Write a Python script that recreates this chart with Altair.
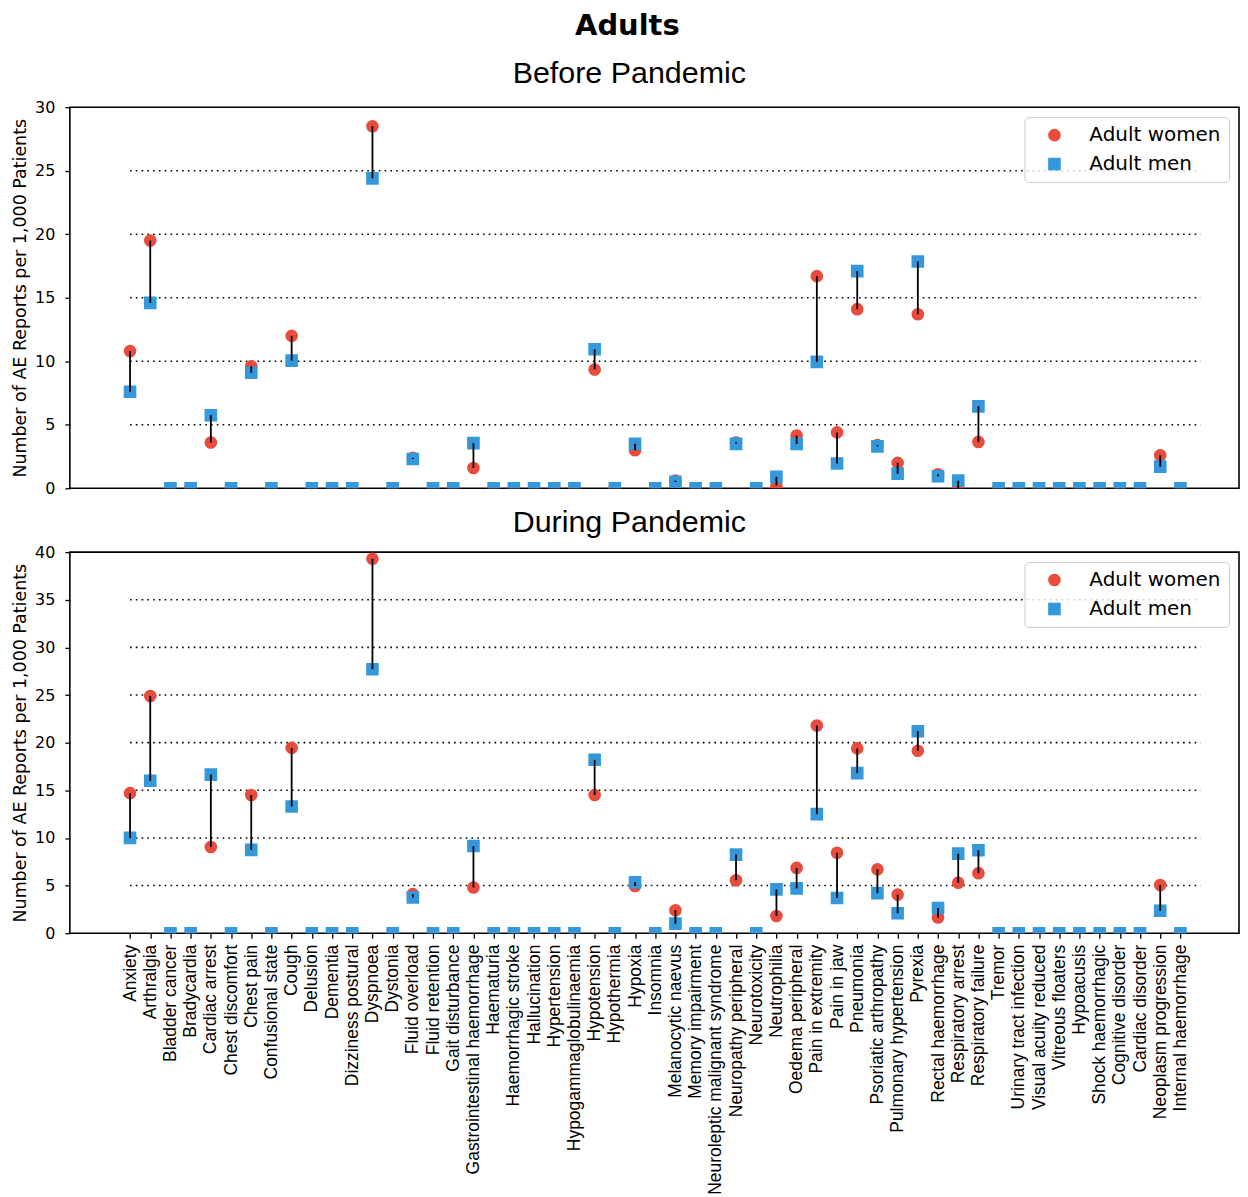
import json
import altair as alt
import pandas as pd

categories = [
    "Anxiety", "Arthralgia", "Bladder cancer", "Bradycardia", "Cardiac arrest",
    "Chest discomfort", "Chest pain", "Confusional state", "Cough", "Delusion",
    "Dementia", "Dizziness postural", "Dyspnoea", "Dystonia", "Fluid overload",
    "Fluid retention", "Gait disturbance", "Gastrointestinal haemorrhage", "Haematuria",
    "Haemorrhagic stroke", "Hallucination", "Hypertension", "Hypogammaglobulinaemia",
    "Hypotension", "Hypothermia", "Hypoxia", "Insomnia", "Melanocytic naevus",
    "Memory impairment", "Neuroleptic malignant syndrome", "Neuropathy peripheral",
    "Neurotoxicity", "Neutrophilia", "Oedema peripheral", "Pain in extremity",
    "Pain in jaw", "Pneumonia", "Psoriatic arthropathy", "Pulmonary hypertension",
    "Pyrexia", "Rectal haemorrhage", "Respiratory arrest", "Respiratory failure",
    "Tremor", "Urinary tract infection", "Visual acuity reduced", "Vitreous floaters",
    "Hypoacusis", "Shock haemorrhagic", "Cognitive disorder", "Cardiac disorder",
    "Neoplasm progression", "Internal haemorrhage",
]

before_women = [10.8, 19.5, 0, 0, 3.6, 0, 9.6, 0, 12.0, 0, 0, 0, 28.5, 0,
                2.4, 0, 0, 1.6, 0, 0, 0, 0, 0,
                9.35, 0, 3.0, 0, 0.6, 0, 0, 3.6, 0, 0.2,
                4.15, 16.7, 4.4, 14.1, 3.4, 2.0, 13.7, 1.1, 0, 3.65,
                0, 0, 0, 0, 0, 0, 0, 0, 2.6, 0]
before_men = [7.6, 14.6, 0, 0, 5.75, 0, 9.1, 0, 10.05, 0, 0, 0, 24.4, 0,
              2.3, 0, 0, 3.55, 0, 0, 0, 0, 0,
              10.95, 0, 3.5, 0, 0.5, 0, 0, 3.5, 0, 0.9,
              3.5, 9.95, 1.95, 17.1, 3.3, 1.15, 17.85, 0.95, 0.6, 6.45,
              0, 0, 0, 0, 0, 0, 0, 0, 1.7, 0]
during_women = [14.7, 24.9, 0, 0, 9.05, 0, 14.5, 0, 19.45, 0, 0, 0, 39.3, 0,
                4.1, 0, 0, 4.8, 0, 0, 0, 0, 0,
                14.5, 0, 4.95, 0, 2.4, 0, 0, 5.55, 0, 1.8,
                6.85, 21.8, 8.45, 19.4, 6.7, 4.05, 19.15, 1.65, 5.3, 6.3,
                0, 0, 0, 0, 0, 0, 0, 0, 5.05, 0]
during_men = [10.0, 16.0, 0, 0, 16.65, 0, 8.75, 0, 13.3, 0, 0, 0, 27.7, 0,
              3.75, 0, 0, 9.15, 0, 0, 0, 0, 0,
              18.2, 0, 5.35, 0, 1.0, 0, 0, 8.25, 0, 4.6,
              4.7, 12.5, 3.7, 16.8, 4.2, 2.1, 21.2, 2.65, 8.35, 8.7,
              0, 0, 0, 0, 0, 0, 0, 0, 2.35, 0]

before_ticks = [0, 5, 10, 15, 20, 25, 30]
during_ticks = [0, 5, 10, 15, 20, 25, 30, 35, 40]
before_grid = [5, 10, 15, 20, 25]
during_grid = [5, 10, 15, 20, 25, 30, 35]

series_names = ["Adult women", "Adult men"]
series_colors = ["#e74c3c", "#3498db"]
series_shapes = ["circle", "square"]

main_title = "Adults"
panel_titles = ["Before Pandemic", "During Pandemic"]
y_title = "Number of AE Reports per 1,000 Patients"

n = len(categories)
PLOT_W = 1172
PLOT_H = 382
x_domain = [-2.98, 54.9]

label_expr = json.dumps(categories) + "[datum.value]"


def panel(title, women, men, ticks, grid_vals, show_x, title_offset):
    long_df = pd.DataFrame({
        "idx": list(range(n)) * 2,
        "value": list(women) + list(men),
        "series": [series_names[0]] * n + [series_names[1]] * n,
    })
    wide_df = pd.DataFrame({"idx": list(range(n)), "women": women, "men": men})
    grid_df = pd.DataFrame({"y": grid_vals, "x0": [0] * len(grid_vals),
                            "x1": [n] * len(grid_vals)})

    xscale = alt.Scale(domain=x_domain, nice=False, zero=False)
    yscale = alt.Scale(domain=[ticks[0], ticks[-1]], nice=False, zero=False)

    if show_x:
        xaxis = alt.Axis(values=list(range(n)), labelExpr=label_expr, labelAngle=-90,
                         labelAlign="right", labelBaseline="middle",
                         labelFont="Liberation Sans", labelFontSize=17.5,
                         labelColor="black", labelOverlap=False, labelPadding=6,
                         labelLimit=0, labelFlush=False, tickSize=5, tickWidth=1.3,
                         tickColor="black", domain=False, grid=False, title=None)
    else:
        xaxis = None
    yaxis = alt.Axis(values=ticks, title=y_title, grid=False, domain=False,
                     tickSize=5, tickWidth=1.3, tickColor="black",
                     labelFont="DejaVu Sans", labelFontSize=16, labelColor="black",
                     labelPadding=10, titleFont="DejaVu Sans", titleFontSize=17.5,
                     titleFontWeight="normal", titleColor="black", titlePadding=5)

    legend = alt.Legend(title=None, orient="top-right", offset=10, padding=8,
                        rowPadding=9, symbolSize=160, symbolStrokeWidth=0,
                        symbolOpacity=1, symbolOffset=12, labelOffset=25,
                        labelFont="DejaVu Sans", labelFontSize=20, labelColor="black",
                        fillColor="rgba(255,255,255,0.8)", strokeColor="#cccccc",
                        cornerRadius=4)

    grid = alt.Chart(grid_df).mark_rule(color="black", strokeWidth=1.6,
                                         strokeDash=[1.6, 4.2]).encode(
        x=alt.X("x0:Q", scale=xscale, axis=xaxis),
        x2="x1:Q",
        y=alt.Y("y:Q", scale=yscale, axis=yaxis),
    )
    points = alt.Chart(long_df).mark_point(filled=True, size=160, opacity=1,
                                           clip=True).encode(
        x=alt.X("idx:Q", scale=xscale, axis=xaxis),
        y=alt.Y("value:Q", scale=yscale, axis=yaxis),
        color=alt.Color("series:N", scale=alt.Scale(domain=series_names,
                                                    range=series_colors),
                        legend=legend),
        shape=alt.Shape("series:N", scale=alt.Scale(domain=series_names,
                                                    range=series_shapes),
                        legend=legend),
    )
    rules = alt.Chart(wide_df).mark_rule(color="black", strokeWidth=1.8).encode(
        x=alt.X("idx:Q", scale=xscale, axis=xaxis),
        y=alt.Y("women:Q", scale=yscale, axis=yaxis),
        y2="men:Q",
    )
    return alt.layer(grid, points, rules).properties(
        width=PLOT_W, height=PLOT_H,
        title=alt.TitleParams(title, font="Liberation Sans", fontSize=30.5,
                              fontWeight="normal", color="black", anchor="middle",
                              frame="bounds", offset=title_offset, dx=4),
    )


top = panel(panel_titles[0], before_women, before_men, before_ticks, before_grid,
            False, 10)
bottom = panel(panel_titles[1], during_women, during_men, during_ticks, during_grid,
               True, 6)

chart = alt.vconcat(top, bottom, spacing=9).resolve_scale(
    color="independent", shape="independent"
).resolve_legend(color="independent", shape="independent").properties(
    title=alt.TitleParams(main_title, font="DejaVu Sans", fontSize=29,
                          fontWeight="bold", color="black", anchor="middle",
                          offset=17, dx=2),
    padding={"left": 2, "top": 2, "right": 0, "bottom": 0},
).configure_view(stroke="black", strokeWidth=1.6)

chart.save("out.html", embed_options={"renderer": "svg", "actions": False})
